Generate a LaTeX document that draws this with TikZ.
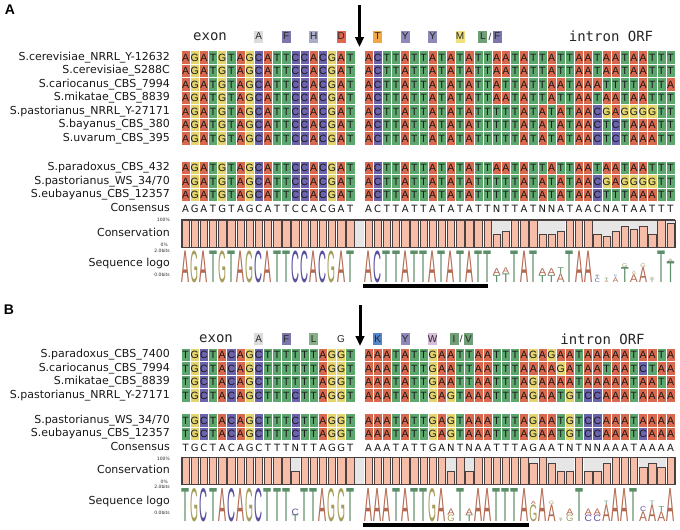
\documentclass[tikz,border=0pt]{standalone}
\usepackage{fontspec}
\usepackage{graphicx}
\setmainfont{DejaVu Sans}
\newfontfamily\gridfont{Liberation Sans}
\newfontfamily\hdrmono{DejaVu Sans Mono}
\newfontfamily\logofont{Liberation Sans}
\usetikzlibrary{arrows.meta}

\definecolor{cA}{HTML}{D8694E}
\definecolor{cT}{HTML}{5DA66E}
\definecolor{cG}{HTML}{E4D46E}
\definecolor{cC}{HTML}{6C63AD}
\definecolor{lA}{HTML}{B4684F}
\definecolor{lT}{HTML}{5C8E69}
\definecolor{lG}{HTML}{A59E5A}
\definecolor{lC}{HTML}{5A519E}
\definecolor{barfill}{HTML}{F6BDA8}
\definecolor{bargray}{HTML}{E6E6E6}
\definecolor{bardark}{HTML}{4A4040}
\definecolor{aaGray}{HTML}{DCDCDC}
\definecolor{aaPurple}{HTML}{7C77AA}
\definecolor{aaLav}{HTML}{ABABCA}
\definecolor{aaRed}{HTML}{E0674E}
\definecolor{aaOrange}{HTML}{F2A747}
\definecolor{aaYP}{HTML}{8D89B8}
\definecolor{aaYellow}{HTML}{EFE27C}
\definecolor{aaGreen}{HTML}{6F9F76}
\definecolor{aaGreenL}{HTML}{86B088}
\definecolor{aaBlue}{HTML}{5584C8}
\definecolor{aaPink}{HTML}{D8BBD8}

\newcount\colcnt
\def\cury{0}
\def\logoH{31.5}
\newcommand\colx[1]{181+(#1-0.5)*9.15}
\newcommand\anyrow[4]{\let\rowcell#1\global\colcnt=#2\relax\gdef\cury{#3}\seqrowi#4\relax}
\def\seqrowi#1{\ifx\relax#1\let\seqnext\relax\else\rowcell{#1}\global\advance\colcnt by 1\relax\let\seqnext\seqrowi\fi\seqnext}
\newcommand\seqcell[1]{%
  \fill[c#1,draw=white,line width=0.6pt] ({181+(\the\colcnt-1)*9.15},\cury-6.75) rectangle ++(9.15,13.5);
  \node[gridletter] at ({181+(\the\colcnt-0.5)*9.15},\cury) {#1};}
\newcommand\conscell[1]{\node[consletter] at ({181+(\the\colcnt-0.5)*9.15},\cury) {#1};}
\newcommand\logocell[1]{\if.#1\else\node[inner sep=0pt,anchor=base,text=l#1] at ({181+(\the\colcnt-0.5)*9.15},\cury) {\resizebox{8pt}{\logoH pt}{\logofont #1}};\fi}
\newcommand\logostack[4]{%
  \gdef\stky{#2}%
  \foreach \lgl/\lgf in {#4}{%
    \pgfmathsetmacro\hh{\lgf*#3}%
    \pgfmathsetmacro\ww{min(8,2.5+0.75*\hh)}%
    \node[inner sep=0pt,anchor=base,text=l\lgl] at ({\colx{#1}},\stky) {\resizebox{\ww pt}{\hh pt}{\logofont\lgl}};
    \pgfmathsetmacro\ny{\stky-\hh}%
    \xdef\stky{\ny}%
  }}
\newcommand\fullbars[3]{%
  \foreach \c in {#3}{\fill[barfill,draw=bardark,line width=0.5pt] ({181+(\c-1)*9.15+0.9},#1) rectangle ({181+\c*9.15-0.9},#2);}}
\newcommand\partbars[3]{%
  \foreach \c/\f in {#3}{%
    \fill[bargray] ({181+(\c-1)*9.15},#1) rectangle ({181+\c*9.15},#2);
    \fill[barfill,draw=bardark,line width=0.5pt] ({181+(\c-1)*9.15+0.9},{#2-(#2-#1)*\f*0.96}) rectangle ({181+\c*9.15-0.9},#2);}}

\tikzset{
 gridletter/.style={inner sep=0pt, font=\gridfont\fontsize{10.5}{10.5}\selectfont, text=black!90},
 consletter/.style={inner sep=0pt, font=\fontsize{10}{10}\selectfont, text=black!90},
 rowlabel/.style={anchor=east, inner sep=0pt, text height=8pt, text depth=2.3pt, font=\fontsize{11}{11}\selectfont, text=black!90},
 tinylabel/.style={anchor=east, inner sep=0pt, font=\fontsize{4.5}{4.5}\selectfont, text=black!85},
 aabox/.style={inner sep=0pt, minimum width=9pt, minimum height=12pt, font=\gridfont\fontsize{10}{10}\selectfont, text=black!85},
 hdrtext/.style={inner sep=0pt, font=\hdrmono\fontsize{14}{14}\selectfont, text=black!85},
 panel/.style={inner sep=0pt, font=\gridfont\bfseries\fontsize{14}{14}\selectfont},
 cutline/.style={line width=3pt, -{Triangle[length=10pt,width=8.5pt]}},
 underbar/.style={line width=3.5pt},
}

\begin{document}
\begin{tikzpicture}[x=1pt,y=-1pt]
\useasboundingbox[fill=white] (0,0) rectangle (680,530);

%================ PANEL A =================
\node[panel] (pA) at (10,10) {A};
\node[hdrtext] (exonA) at (210,36.5) {exon};
\node[aabox,fill=aaGray] (aA1) at ({\colx{9}},36.5) {A};
\node[aabox,fill=aaPurple] (aA2) at ({\colx{12}},36.5) {F};
\node[aabox,fill=aaLav] (aA3) at ({\colx{15}},36.5) {H};
\node[aabox,fill=aaRed] (aA4) at ({\colx{18}},36.5) {D};
\node[aabox,fill=aaOrange] (aA5) at ({\colx{22}},36.5) {T};
\node[aabox,fill=aaYP] (aA6) at ({\colx{25}},36.5) {Y};
\node[aabox,fill=aaYP] (aA7) at ({\colx{28}},36.5) {Y};
\node[aabox,fill=aaYellow] (aA8) at ({\colx{31}},36.5) {M};
\node[aabox,fill=aaGreen] (aA9) at (482.8,36.5) {L};
\node[aabox,fill=aaPurple] (aA11) at (497.2,36.5) {F};
\node[aabox] (aA10) at (490,36.5) {/};
\node[hdrtext] (intA) at (611,36.5) {intron ORF};
\coordinate (arA1) at (359.5,5);
\coordinate (arA2) at (359.5,47);
\draw[cutline] (arA1) -- (arA2);

\node[rowlabel] (nA1) at (170,57.5) {S.cerevisiae\_NRRL\_Y-12632};
\node[rowlabel] (nA2) at (170,71) {S.cerevisiae\_S288C};
\node[rowlabel] (nA3) at (170,84.5) {S.cariocanus\_CBS\_7994};
\node[rowlabel] (nA4) at (170,98) {S.mikatae\_CBS\_8839};
\node[rowlabel] (nA5) at (170,111.5) {S.pastorianus\_NRRL\_Y-27171};
\node[rowlabel] (nA6) at (170,125) {S.bayanus\_CBS\_380};
\node[rowlabel] (nA7) at (170,138.5) {S.uvarum\_CBS\_395};
\node[rowlabel] (nA8) at (170,168) {S.paradoxus\_CBS\_432};
\node[rowlabel] (nA9) at (170,181.5) {S.pastorianus\_WS\_34/70};
\node[rowlabel] (nA10) at (170,195) {S.eubayanus\_CBS\_12357};
\node[rowlabel] (nA11) at (170,208.5) {Consensus};
\node[rowlabel] (nA12) at (170,233.5) {Conservation};
\node[rowlabel] (nA13) at (170,264) {Sequence logo};
\node[tinylabel] (tA1) at (170,220) {100\%};
\node[tinylabel] (tA2) at (168,245) {0\%};
\node[tinylabel] (tA3) at (170,251) {2.0bits};
\node[tinylabel] (tA4) at (170,275) {0.0bits};

\anyrow\seqcell{1}{57.5}{AGATGTAGCATTCCACGAT}
\anyrow\seqcell{21}{57.5}{ACTTATTATATATTAATATTATTAATAATAATTT}
\anyrow\seqcell{1}{71}{AGATGTAGCATTCCACGAT}
\anyrow\seqcell{21}{71}{ACTTATTATATATTAATATTATTAATAATAATTT}
\anyrow\seqcell{1}{84.5}{AGATGTAGCATTCCACGAT}
\anyrow\seqcell{21}{84.5}{ACTTATTATATATTATTATTAATAAATTTTATTA}
\anyrow\seqcell{1}{98}{AGATGTAGCATTCCACGAT}
\anyrow\seqcell{21}{98}{ACTTATTATATATTAATATTATTAATAATAATTT}
\anyrow\seqcell{1}{111.5}{AGATGTAGCATTCCACGAT}
\anyrow\seqcell{21}{111.5}{ACTTATTATATATTTTTATATATAACGAGGGGTT}
\anyrow\seqcell{1}{125}{AGATGTAGCATTCCACGAT}
\anyrow\seqcell{21}{125}{ACTTATTATATATTTTTATATATAACTCTAAATT}
\anyrow\seqcell{1}{138.5}{AGATGTAGCATTCCACGAT}
\anyrow\seqcell{21}{138.5}{ACTTATTATATATTTTTATATATAACTCTAAATT}
\anyrow\seqcell{1}{168}{AGATGTAGCATTCCACGAT}
\anyrow\seqcell{21}{168}{ACTTATTATATATTAATATTATTAATAATAATTT}
\anyrow\seqcell{1}{181.5}{AGATGTAGCATTCCACGAT}
\anyrow\seqcell{21}{181.5}{ACTTATTATATATTTTTATATATAACGAGGGGTT}
\anyrow\seqcell{1}{195}{AGATGTAGCATTCCACGAT}
\anyrow\seqcell{21}{195}{ACTTATTATATATTTTTATATATAACTTTAAATT}
\anyrow\conscell{1}{208.5}{AGATGTAGCATTCCACGAT}
\anyrow\conscell{21}{208.5}{ACTTATTATATATTNTTATNNATAACNATAATTT}

\fill[bargray] ({181+19*9.15},220) rectangle ({181+20*9.15},247);
\fullbars{220}{247}{1,...,19}
\fullbars{220}{247}{21,...,34}
\fullbars{220}{247}{37,38,39,43,44,45,53}
\partbars{220}{247}{35/.5,36/.6,40/.5,41/.5,42/.6,46/.5,47/.4,48/.6,49/.8,50/.7,51/.8,52/.5,54/.9}
\draw[bardark,line width=0.6pt] (181,220) rectangle (675.1,247);
\draw[bardark,line width=1.5pt] (181,220) -- (675.1,220);

\def\logoH{31.5}
\anyrow\logocell{1}{282.5}{AGATGTAGCATTCCACGAT}
\anyrow\logocell{21}{282.5}{ACTTATTATATATT..TAT...TAA.......T.}
\logostack{35}{282.5}{31.5}{T/.22,A/.22}
\logostack{36}{282.5}{31.5}{T/.274,A/.182}
\logostack{40}{282.5}{31.5}{T/.22,A/.22}
\logostack{41}{282.5}{31.5}{T/.22,A/.22}
\logostack{42}{282.5}{31.5}{A/.274,T/.182}
\logostack{46}{282.5}{31.5}{C/.119,T/.095,A/.024}
\logostack{47}{282.5}{31.5}{A/.059,T/.059,G/.029}
\logostack{48}{282.5}{31.5}{A/.139,T/.046,C/.046}
\logostack{49}{282.5}{31.5}{T/.476,G/.119}
\logostack{50}{282.5}{31.5}{A/.246,G/.070,T/.035}
\logostack{51}{282.5}{31.5}{A/.476,G/.119}
\logostack{52}{282.5}{31.5}{T/.084,A/.050,G/.034}
\logostack{54}{282.5}{31.5}{T/.663,A/.074}

\coordinate (ulA1) at (363,286);
\coordinate (ulA2) at (488,286);
\draw[underbar] (ulA1) -- (ulA2);

%================ PANEL B =================
\node[panel] (pB) at (9,310) {B};
\node[hdrtext] (exonB) at (216,339) {exon};
\node[aabox,fill=aaGray] (aB1) at ({\colx{9}},339) {A};
\node[aabox,fill=aaPurple] (aB2) at ({\colx{12}},339) {F};
\node[aabox,fill=aaGreenL] (aB3) at ({\colx{15}},339) {L};
\node[aabox] (aB4) at ({\colx{18}},339) {G};
\node[aabox,fill=aaBlue] (aB5) at ({\colx{22}},339) {K};
\node[aabox,fill=aaYP] (aB6) at ({\colx{25}},339) {Y};
\node[aabox,fill=aaPink] (aB7) at ({\colx{28}},339) {W};
\node[aabox,fill=aaGreen] (aB8) at (454,339) {I};
\node[aabox,fill=aaGreen] (aB10) at (468.5,339) {V};
\node[aabox] (aB9) at (461.2,339) {/};
\node[hdrtext] (intB) at (602.5,339) {intron ORF};
\coordinate (arB1) at (360,305);
\coordinate (arB2) at (360,346);
\draw[cutline] (arB1) -- (arB2);

\node[rowlabel] (nB1) at (170,355) {S.paradoxus\_CBS\_7400};
\node[rowlabel] (nB2) at (170,368.5) {S.cariocanus\_CBS\_7994};
\node[rowlabel] (nB3) at (170,382) {S.mikatae\_CBS\_8839};
\node[rowlabel] (nB4) at (170,395.5) {S.pastorianus\_NRRL\_Y-27171};
\node[rowlabel] (nB5) at (170,420.5) {S.pastorianus\_WS\_34/70};
\node[rowlabel] (nB6) at (170,434) {S.eubayanus\_CBS\_12357};
\node[rowlabel] (nB7) at (170,447.5) {Consensus};
\node[rowlabel] (nB8) at (170,471) {Conservation};
\node[rowlabel] (nB9) at (170,501.7) {Sequence logo};
\node[tinylabel] (tB1) at (170,459) {100\%};
\node[tinylabel] (tB2) at (168,482) {0\%};
\node[tinylabel] (tB3) at (170,487) {2.0bits};
\node[tinylabel] (tB4) at (170,512.7) {0.0bits};

\anyrow\seqcell{1}{355}{TGCTACAGCTTTTTTAGGT}
\anyrow\seqcell{21}{355}{AAATATTGAATTAATTTAGAGAATAAAAATAATA}
\anyrow\seqcell{1}{368.5}{TGCTACAGCTTTTTTAGGT}
\anyrow\seqcell{21}{368.5}{AAATATTGAATTAATTTAAAAGATAATAATCTAA}
\anyrow\seqcell{1}{382}{TGCTACAGCTTTTTTAGGT}
\anyrow\seqcell{21}{382}{AAATATTGAATTAATTTAGAAAATAAAAATAATA}
\anyrow\seqcell{1}{395.5}{TGCTACAGCTTTCTTAGGT}
\anyrow\seqcell{21}{395.5}{AAATATTGAGTAAATTTAGAATGTCCAAATAAAA}
\anyrow\seqcell{1}{420.5}{TGCTACAGCTTTCTTAGGT}
\anyrow\seqcell{21}{420.5}{AAATATTGAGTAAATTTAGAATGTCCAAATAAAA}
\anyrow\seqcell{1}{434}{TGCTACAGCTTTCTTAGGT}
\anyrow\seqcell{21}{434}{AAATATTGAGTAAATTTAGAATGTCCAAATCAAA}
\anyrow\conscell{1}{447.5}{TGCTACAGCTTTNTTAGGT}
\anyrow\conscell{21}{447.5}{AAATATTGANTNAATTTAGAATNTNNAAATAAAA}

\fill[bargray] ({181+19*9.15},457.7) rectangle ({181+20*9.15},484.3);
\fullbars{457.7}{484.3}{1,...,12}
\fullbars{457.7}{484.3}{14,...,19}
\fullbars{457.7}{484.3}{21,...,29}
\fullbars{457.7}{484.3}{31,33,34,35,36,37,38,40,44,48,49,50,54}
\partbars{457.7}{484.3}{13/.5,30/.5,32/.5,39/.833,41/.833,42/.5,43/.5,45/.5,46/.5,47/.833,51/.667,52/.833,53/.667}
\draw[bardark,line width=0.6pt] (181,457.7) rectangle (675.1,484.3);
\draw[bardark,line width=1.5pt] (181,457.7) -- (675.1,457.7);

\def\logoH{33}
\anyrow\logocell{1}{521.5}{TGCTACAGCTTT.TTAGGT}
\anyrow\logocell{21}{521.5}{AAATATTGA.T.AATTTA.A...T...AAT...A}
\logostack{13}{521.5}{33}{T/.195,C/.195}
\logostack{30}{521.5}{33}{G/.195,A/.195}
\logostack{32}{521.5}{33}{T/.195,A/.195}
\logostack{39}{521.5}{33}{G/.503,A/.10}
\logostack{41}{521.5}{33}{A/.503,G/.10}
\logostack{42}{521.5}{33}{T/.055,A/.037,G/.018}
\logostack{43}{521.5}{33}{G/.195,A/.195}
\logostack{45}{521.5}{33}{C/.195,A/.195}
\logostack{46}{521.5}{33}{C/.195,A/.195}
\logostack{47}{521.5}{33}{A/.503,T/.10}
\logostack{51}{521.5}{33}{A/.293,C/.147}
\logostack{52}{521.5}{33}{A/.503,T/.10}
\logostack{53}{521.5}{33}{A/.293,T/.147}

\coordinate (ulB1) at (363,525);
\coordinate (ulB2) at (529,525);
\draw[underbar] (ulB1) -- (ulB2);
\end{tikzpicture}
\end{document}
